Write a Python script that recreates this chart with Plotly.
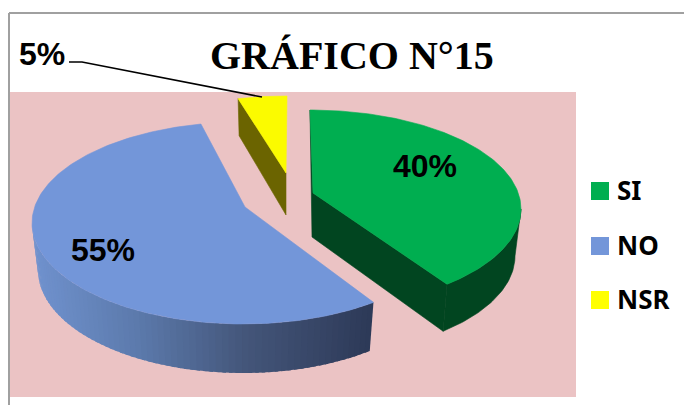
import numpy as np
import plotly.graph_objects as go

# ---- data ----
categories = ["SI", "NO", "NSR"]
shares = [40, 55, 5]
labels = ["40%", "55%", "5%"]
title_text = "GRÁFICO N°15"

# ---- styling / projection of the 3-D exploded pie ----
top_colors = {"SI": "#00AE50", "NO": "#7396D9", "NSR": "#FBFB00"}
side_colors = {"SI": "#014520", "NSR": "#6B6400"}
legend_colors = {"SI": "#00AE50", "NO": "#7396D9", "NSR": "#FFFF00"}
W, H = 684, 405
ELL = {  # rim ellipse (cx, cy, a, b), lower rim ellipse, apex
    "SI": dict(top=(310, 209, 211, 99), low=(310, 256, 205, 99), apex=(313, 193), inner=(312, 237)),
    "NO": dict(top=(243, 223, 211, 101), low=(243, 270, 205, 103), apex=(245, 207), inner=None),
    "NSR": dict(top=(287, 194, 211, 98), low=(287, 236, 205, 98), apex=(286, 173), inner=(286, 215)),
}
# perspective foreshortening of the sector edges, degrees
WARP = {"SI": (0, -4.5), "NO": (-2.2, 6.5), "NSR": (4.6, 0)}


def rim(e, t_deg):
    t = np.radians(t_deg)
    return e[0] + e[2] * np.cos(t), e[1] - e[3] * np.sin(t)


def poly(x, y, color, width=0.6):
    return go.Scatter(x=list(x), y=list(y), mode="lines", fill="toself", fillcolor=color,
                      line=dict(width=width, color=color), hoverinfo="skip", showlegend=False)


# sector edges from the shares (clockwise from 12 o'clock)
edges = {}
acc = 0
for c, s in zip(categories, shares):
    a0 = acc / sum(shares) * 360 + WARP[c][0]
    a1 = (acc + s) / sum(shares) * 360 + WARP[c][1]
    edges[c] = (90 - a0, 90 - a1)
    acc += s

fig = go.Figure()

# NO: outer wall with horizontal shading
ramp = [(0.0, (112, 146, 206)), (0.3, (92, 122, 172)), (0.62, (68, 86, 122)), (1.0, (45, 57, 87))]
t_start, t_end = edges["NO"]
wall_t = np.linspace(-180, t_start, 71)
e_top, e_low = ELL["NO"]["top"], ELL["NO"]["low"]
for i in range(len(wall_t) - 1):
    t0, t1 = wall_t[i], wall_t[i + 1]
    t1b = min(t1 + 1.0, t_start)
    x0, y0 = rim(e_top, t0)
    x1, y1 = rim(e_top, t1b)
    x2, y2 = rim(e_low, t1b)
    x3, y3 = rim(e_low, t0)
    f = (x0 - 32) / (373 - 32)
    rgb = [int(np.interp(f, [r[0] for r in ramp], [r[1][k] for r in ramp])) for k in range(3)]
    col = f"rgb({rgb[0]},{rgb[1]},{rgb[2]})"
    fig.add_trace(poly([x0, x1, x2, x3, x0], [y0, y1, y2, y3, y0], col, width=0))

# NO: top face
ts = np.linspace(t_start, t_end, 200)
rx, ry = rim(e_top, ts)
ax, ay = ELL["NO"]["apex"]
fig.add_trace(poly([ax, *rx, ax], [ay, *ry, ay], top_colors["NO"]))

# SI: inner wall, outer wall, top face
t_s, t_e = edges["SI"]
e_top, e_low = ELL["SI"]["top"], ELL["SI"]["low"]
ax, ay = ELL["SI"]["apex"]
ix, iy = ELL["SI"]["inner"]
cx_top, cy_top = rim(e_top, t_e)
cx_low, cy_low = rim(e_low, t_e)
sx, sy = rim(e_top, t_s)
fig.add_trace(poly([sx, ax, cx_top, cx_low, ix, sx], [sy, ay, cy_top, cy_low, iy, sy], side_colors["SI"]))
ws = np.linspace(0, t_e, 50)
tx, ty = rim(e_top, ws)
lx, ly = rim(e_low, ws[::-1])
fig.add_trace(poly([*tx, *lx, tx[0]], [*ty, *ly, ty[0]], side_colors["SI"]))
ts = np.linspace(t_s, t_e, 160)
rx, ry = rim(e_top, ts)
fig.add_trace(poly([ax, *rx, ax], [ay, *ry, ay], top_colors["SI"]))

# NSR: inner wall and top face
t_s, t_e = edges["NSR"]
e_top = ELL["NSR"]["top"]
ax, ay = ELL["NSR"]["apex"]
ix, iy = ELL["NSR"]["inner"]
sx, sy = rim(e_top, t_s)
fig.add_trace(poly([sx, ax, ix, sx + 1, sx], [sy, ay, iy, sy + 37, sy], side_colors["NSR"]))
ts = np.linspace(t_s, t_e, 30)
rx, ry = rim(e_top, ts)
fig.add_trace(poly([ax, *rx, ax], [ay, *ry, ay], top_colors["NSR"]))

# leader line of the 5% label
fig.add_trace(go.Scatter(x=[69, 82, 262], y=[62, 62, 97], mode="lines",
                         line=dict(color="#000000", width=1.6), hoverinfo="skip", showlegend=False))

# legend keys and names
legend_y = [191, 246, 300]
fig.add_trace(go.Scatter(x=[600] * 3, y=legend_y, mode="markers",
                         marker=dict(symbol="square", size=18, color=[legend_colors[c] for c in categories]),
                         hoverinfo="skip", showlegend=False))
for c, y in zip(categories, legend_y):
    fig.add_annotation(x=615, y=y - 1, text=f"<b>{c}</b>", xanchor="left", yanchor="middle", showarrow=False,
                       font=dict(family="Noto Sans", size=26, color="#000000"))

# value labels
for txt, (x, y) in zip(labels, [(425, 166), (103, 250), (42, 54)]):
    fig.add_annotation(x=x, y=y, text=f"<b>{txt}</b>", showarrow=False, xanchor="center", yanchor="middle",
                       font=dict(family="Liberation Sans", size=32, color="#000000"))

fig.add_annotation(x=352, y=55, text=f"<b>{title_text}</b>", showarrow=False, xanchor="center", yanchor="middle",
                   font=dict(family="Liberation Serif", size=40, color="#000000"))

fig.update_layout(
    width=W, height=H, margin=dict(l=0, r=0, t=0, b=0), autosize=False,
    paper_bgcolor="#FFFFFF", plot_bgcolor="#FFFFFF", showlegend=False,
    xaxis=dict(range=[0, W], visible=False, fixedrange=True),
    yaxis=dict(range=[H, 0], visible=False, fixedrange=True),
    shapes=[
        dict(type="rect", x0=9, x1=576, y0=92, y1=397, fillcolor="#EBC3C4", line_width=0, layer="below"),
        dict(type="line", x0=9, x1=684, y0=13, y1=13, line=dict(color="#A0A0A0", width=2), layer="below"),
        dict(type="line", x0=9, x1=9, y0=13, y1=405, line=dict(color="#A0A0A0", width=2), layer="below"),
    ],
)
fig.write_html("out.html", config={"displayModeBar": False},
               post_script="document.body.style.margin='0';document.body.style.overflow='hidden';")
